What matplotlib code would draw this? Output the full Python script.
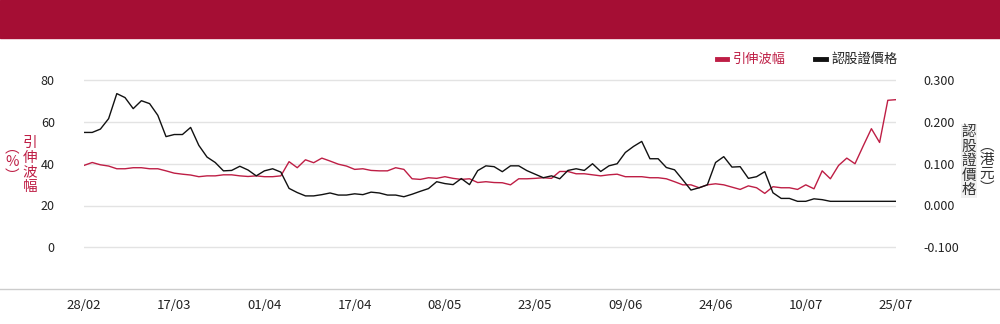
import matplotlib
matplotlib.use("Agg")
import matplotlib.pyplot as plt
from matplotlib.lines import Line2D
from matplotlib.patches import Rectangle
from matplotlib.ticker import FormatStrFormatter
import numpy as np
import pandas as pd

plt.rcParams['font.family'] = ['Noto Sans CJK TC', 'DejaVu Sans']

# HK trading days, 28/02 - 25/07
hk_holidays = ['2025-04-04', '2025-04-18', '2025-04-21', '2025-05-01',
               '2025-05-05', '2025-07-01']
dates = pd.bdate_range('2025-02-28', '2025-07-25', freq='C', holidays=hk_holidays)

# implied volatility (%)
iv = [39.2, 40.6, 39.5, 38.9, 37.6, 37.6, 38.1, 38.1, 37.6, 37.6,
      36.6, 35.5, 35.0, 34.6, 33.8, 34.2, 34.2, 34.7, 34.7, 34.2,
      33.9, 34.2, 33.8, 33.8, 34.2, 41.0, 38.1, 41.9, 40.5, 42.7,
      41.3, 39.8, 38.9, 37.3, 37.6, 36.8, 36.6, 36.6, 38.1, 37.3,
      32.8, 32.5, 33.3, 33.0, 33.8, 33.0, 32.5, 32.8, 31.0, 31.4,
      31.0, 30.9, 29.9, 32.8, 32.8, 33.0, 33.3, 33.0, 36.3, 36.3,
      35.2, 35.2, 34.7, 34.2, 34.7, 35.0, 33.8, 33.8, 33.8, 33.3,
      33.3, 32.8, 31.4, 29.9, 29.9, 28.5, 29.9, 30.4, 29.9, 28.8,
      27.7, 29.4, 28.5, 25.8, 29.0, 28.5, 28.5, 27.7, 29.9, 28.0,
      36.6, 32.8, 39.2, 42.7, 40.0, 48.5, 56.8, 50.2, 70.4, 70.7]

# warrant price (HKD)
price = [0.175, 0.175, 0.183, 0.208, 0.268, 0.2585, 0.232, 0.251, 0.244, 0.216,
         0.165, 0.170, 0.170, 0.187, 0.144, 0.116, 0.103, 0.083, 0.084, 0.094,
         0.085, 0.071, 0.083, 0.088, 0.080, 0.041, 0.031, 0.023, 0.023, 0.026,
         0.030, 0.025, 0.025, 0.028, 0.026, 0.032, 0.030, 0.025, 0.025, 0.021,
         0.027, 0.034, 0.0405, 0.057, 0.0525, 0.050, 0.0645, 0.050, 0.0835, 0.095,
         0.093, 0.081, 0.095, 0.095, 0.0835, 0.075, 0.0665, 0.071, 0.064, 0.084,
         0.088, 0.084, 0.100, 0.0815, 0.095, 0.100, 0.127, 0.1415, 0.1535, 0.112,
         0.112, 0.091, 0.0855, 0.0615, 0.037, 0.0425, 0.0495, 0.103, 0.117, 0.092,
         0.093, 0.065, 0.069, 0.081, 0.0305, 0.017, 0.017, 0.010, 0.010, 0.016,
         0.014, 0.010, 0.010, 0.010, 0.010, 0.010, 0.010, 0.010, 0.010, 0.010]

iv_ticks = [0, 20, 40, 60, 80]
price_ticks = [-0.1, 0.0, 0.1, 0.2, 0.3]
tick_step = 11

RED = '#BE1E45'
HEAD = '#A50E34'

fig = plt.figure(figsize=(10, 3.24), dpi=100)
fig.patches.append(Rectangle((0, 1 - 38 / 324), 1, 38 / 324, transform=fig.transFigure,
                             color=HEAD, zorder=0))
fig.add_artist(Line2D([0, 1], [1 - 289 / 324] * 2, color='#cccccc', lw=1))

ax = fig.add_axes([0.084, 1 - 289 / 324, 0.812, (289 - 38.5) / 324])
ax2 = ax.twinx()
x = np.arange(len(dates))

ax.plot(x, iv, color=RED, lw=1.0, zorder=3)
ax2.plot(x, price, color='#111111', lw=1.0, zorder=3)

ax.set_xlim(0, len(dates) - 1)
ax.set_ylim(-20, 100)
ax2.set_ylim(-0.2, 0.4)
ax.set_yticks(iv_ticks)
ax2.set_yticks(price_ticks)
ax2.yaxis.set_major_formatter(FormatStrFormatter('%.3f'))
ax.set_xticks(x[::tick_step])
ax.set_xticklabels(dates[::tick_step].strftime('%d/%m'))

for a in (ax, ax2):
    for s in a.spines.values():
        s.set_visible(False)
    a.tick_params(length=0, colors='#222222', labelsize=9)
ax.tick_params(axis='y', pad=21)
ax2.tick_params(axis='y', pad=20)
ax.tick_params(axis='x', pad=7, labelsize=9.5)
ax.grid(axis='y', color='#e3e3e3', lw=1)
ax.set_axisbelow(True)

# vertical axis titles
fig.text(30 / 1000, 1 - 136 / 324, '\n'.join('引伸波幅'), color=RED, fontsize=10.5,
         ha='center', va='top', linespacing=1.05)
fig.text(12 / 1000, 1 - 141 / 324, '︵\n%\n︶', color=RED, fontsize=10.5,
         ha='center', va='top', linespacing=1.0)
fig.text(969 / 1000, 1 - 125 / 324, '\n'.join('認股證價格'), color='#333333', fontsize=10.5,
         ha='center', va='top', linespacing=1.05,
         bbox=dict(facecolor='#f1f1f1', edgecolor='none', pad=0.5))
fig.text(987 / 1000, 1 - 139 / 324, '︵\n港\n元\n︶', color='#333333', fontsize=10.5,
         ha='center', va='top', linespacing=1.0)

# legend
ly = 1 - 59 / 324
fig.add_artist(Line2D([717 / 1000, 727 / 1000], [ly, ly], color=RED, lw=3.5))
fig.text(733 / 1000, ly, '引伸波幅', color=RED, fontsize=9.5, va='center')
fig.add_artist(Line2D([815 / 1000, 826 / 1000], [ly, ly], color='#111111', lw=3.5))
fig.text(832 / 1000, ly, '認股證價格', color='#222222', fontsize=9.5, va='center')

fig.savefig('out.png', dpi=100)
